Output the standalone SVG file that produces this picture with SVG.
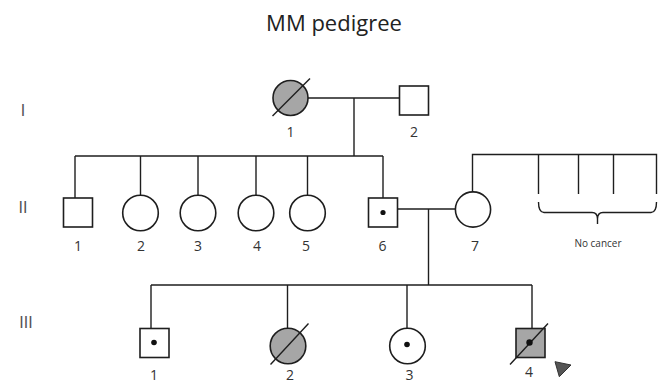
<svg xmlns="http://www.w3.org/2000/svg" width="669" height="382" viewBox="0 0 669 382">
  <style>
    .ln { fill: none; stroke: #1e1e1e; stroke-width: 1.4; }
    .sym { fill: #ffffff; stroke: #1e1e1e; stroke-width: 1.6; }
    .aff { fill: #a6a6a6; stroke: #1e1e1e; stroke-width: 1.6; }
    .dead { stroke: #1e1e1e; stroke-width: 1.4; }
    .dot { fill: #111111; }
    .num { font-family: "Open Sans", "Liberation Sans", sans-serif; font-size: 14px; fill: #333333; text-anchor: middle; }
    .gen { font-family: "Liberation Sans", sans-serif; font-size: 16px; fill: #555555; text-anchor: middle; }
    .title { font-family: "Open Sans", "Liberation Sans", sans-serif; font-size: 22px; fill: #222222; text-anchor: middle; }
    .note { font-family: "Open Sans", "Liberation Sans", sans-serif; font-size: 10px; fill: #333333; text-anchor: middle; }
  </style>

  <rect width="669" height="382" fill="#ffffff"/>

  <text class="title" x="334" y="31">MM pedigree</text>

  <!-- generation labels -->
  <g id="gen-labels">
    <text class="gen" x="23" y="115.5">I</text>
    <text class="gen" x="23" y="213">II</text>
    <text class="gen" x="26" y="328">III</text>
  </g>

  <!-- connectors -->
  <g id="connectors">
    <!-- generation I mating and descent -->
    <path class="ln" d="M308 98 H399"/>
    <path class="ln" d="M354 98 V156"/>
    <!-- generation II sibship -->
    <path class="ln" d="M75 156 H383"/>
    <path class="ln" d="M75 156 V198"/>
    <path class="ln" d="M140.5 156 V195"/>
    <path class="ln" d="M198 156 V195"/>
    <path class="ln" d="M256 156 V195"/>
    <path class="ln" d="M307.5 156 V195"/>
    <path class="ln" d="M383 156 V198"/>
    <!-- II-6 x II-7 mating and descent -->
    <path class="ln" d="M397.5 209 H455.5"/>
    <path class="ln" d="M428.5 209 V285"/>
    <!-- II-7 sibship -->
    <path class="ln" d="M472.5 192 V154.5 H656.5 V194"/>
    <path class="ln" d="M538.5 154.5 V194"/>
    <path class="ln" d="M578.5 154.5 V194"/>
    <path class="ln" d="M613.5 154.5 V194"/>
    <!-- brace -->
    <path class="ln" d="M538.5 202 Q538.5 212.5 544 212.5 H592 Q597.5 212.5 597.5 219 V224 M597.5 219 Q597.5 212.5 603 212.5 H651 Q656.5 212.5 656.5 202"/>
    <!-- generation III sibship -->
    <path class="ln" d="M151 285 H532"/>
    <path class="ln" d="M151 285 V328.5"/>
    <path class="ln" d="M287.5 285 V328"/>
    <path class="ln" d="M407 285 V328"/>
    <path class="ln" d="M532 285 V328.5"/>
  </g>

  <!-- generation I -->
  <g id="I-1">
    <circle class="aff" cx="290.5" cy="98" r="17.5"/>
    <line class="dead" x1="272.5" y1="116" x2="310" y2="78.5"/>
    <text class="num" x="290.5" y="137">1</text>
  </g>
  <g id="I-2">
    <rect class="sym" x="399.5" y="86" width="29" height="29"/>
    <text class="num" x="414" y="137">2</text>
  </g>

  <!-- generation II -->
  <g id="II-1">
    <rect class="sym" x="63.5" y="198" width="29" height="29"/>
    <text class="num" x="78" y="251">1</text>
  </g>
  <g id="II-2">
    <circle class="sym" cx="140.5" cy="213" r="17.8"/>
    <text class="num" x="141" y="251">2</text>
  </g>
  <g id="II-3">
    <circle class="sym" cx="198" cy="213" r="17.8"/>
    <text class="num" x="198" y="251">3</text>
  </g>
  <g id="II-4">
    <circle class="sym" cx="256" cy="213" r="17.8"/>
    <text class="num" x="257" y="251">4</text>
  </g>
  <g id="II-5">
    <circle class="sym" cx="307.5" cy="213" r="17.8"/>
    <text class="num" x="306" y="251">5</text>
  </g>
  <g id="II-6">
    <rect class="sym" x="368.5" y="198" width="29" height="29"/>
    <circle class="dot" cx="383" cy="212.5" r="2.6"/>
    <text class="num" x="382.5" y="251">6</text>
  </g>
  <g id="II-7">
    <circle class="sym" cx="473" cy="209.5" r="17.6"/>
    <text class="num" x="475" y="251">7</text>
  </g>
  <g id="II-7-siblings">
    <text class="note" x="598" y="247">No cancer</text>
  </g>

  <!-- generation III -->
  <g id="III-1">
    <rect class="sym" x="140" y="328.5" width="29" height="29"/>
    <circle class="dot" cx="154" cy="342.5" r="2.8"/>
    <text class="num" x="154" y="379.5">1</text>
  </g>
  <g id="III-2">
    <circle class="aff" cx="288" cy="346" r="17.8"/>
    <line class="dead" x1="270.5" y1="364.5" x2="308.5" y2="323.5"/>
    <text class="num" x="290" y="379.5">2</text>
  </g>
  <g id="III-3">
    <circle class="sym" cx="407.5" cy="346" r="17.8"/>
    <circle class="dot" cx="407" cy="344.5" r="2.8"/>
    <text class="num" x="409.5" y="379.5">3</text>
  </g>
  <g id="III-4">
    <rect class="aff" x="516" y="328.5" width="29" height="29"/>
    <line class="dead" x1="510" y1="364.5" x2="548" y2="323.5"/>
    <circle class="dot" cx="529.5" cy="342.5" r="3.2"/>
    <text class="num" x="529" y="376.5">4</text>
    <polygon points="555,361.7 571,365 559.3,376.7" fill="#555555" stroke="#333333" stroke-width="1" stroke-linejoin="round"/>
  </g>
</svg>
